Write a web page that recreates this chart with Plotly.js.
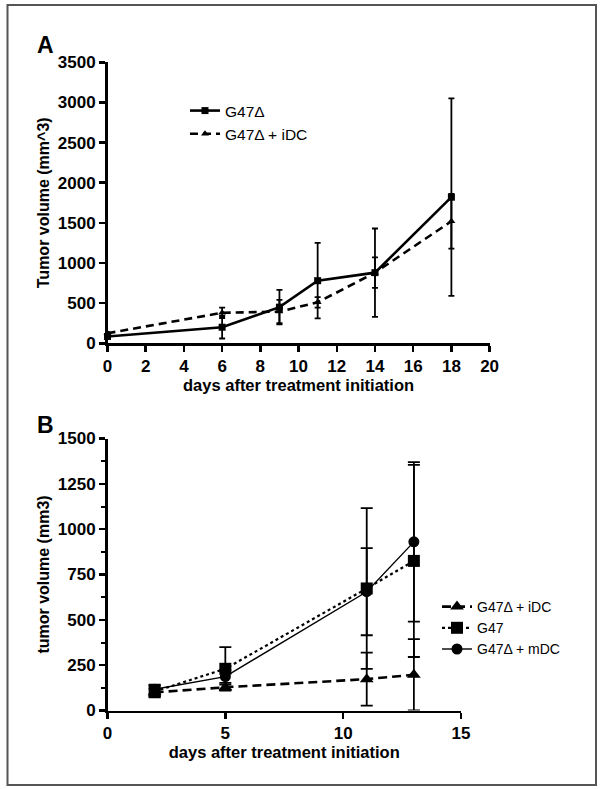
<!DOCTYPE html>
<html>
<head>
<meta charset="utf-8">
<script src="https://cdn.plot.ly/plotly-3.0.1.min.js"></script>
<style>html,body{margin:0;padding:0;background:#fff;}#chart{width:602px;height:789px;}</style>
</head>
<body>
<div id="chart"></div>
<script>
// Panel A data
const daysA = [0, 6, 9, 11, 14, 18];
const g47dA = [85, 200, 450, 780, 880, 1820];
const errG47dA = [15, 140, 215, 470, 550, 1230];
const idcA = [125, 380, 395, 510, 880, 1520];
const errIdcA = [15, 65, 145, 65, 190, 340];

// Panel B data
const daysB = [2, 5, 11, 13];
const idcB = [100, 128, 173, 197];
const errIdcB = [20, 15, 146, 197];
const g47B = [105, 230, 673, 825];
const errG47B = [33, 120, 443, 530];
const mdcB = [117, 187, 655, 930];
const errMdcB = [25, 35, 240, 440];

const namesA = ['G47Δ', 'G47Δ + iDC'];
const namesB = ['G47Δ + iDC', 'G47', 'G47Δ + mDC'];

const FONT = 'Liberation Sans, Arial, Helvetica, sans-serif';

function eb(arr, w, t) {
  return {type: 'data', array: arr, visible: true, color: '#000', thickness: t, width: w};
}

const traces = [
  {x: daysA, y: g47dA, name: namesA[0], type: 'scatter', mode: 'lines+markers', xaxis: 'x', yaxis: 'y',
   line: {color: '#000', width: 2.6, dash: 'solid'}, marker: {symbol: 'square', size: 7, color: '#000'},
   error_y: eb(errG47dA, 3, 1.8), cliponaxis: false, legend: 'legend'},
  {x: daysA, y: idcA, name: namesA[1], type: 'scatter', mode: 'lines+markers', xaxis: 'x', yaxis: 'y',
   line: {color: '#000', width: 2.6, dash: '8px,5px'}, marker: {symbol: 'triangle-up', size: 7, color: '#000'},
   error_y: eb(errIdcA, 3, 1.8), cliponaxis: false, legend: 'legend'},
  {x: daysB, y: idcB, name: namesB[0], type: 'scatter', mode: 'lines+markers', xaxis: 'x2', yaxis: 'y2',
   line: {color: '#000', width: 2.6, dash: '9px,5px'}, marker: {symbol: 'triangle-up', size: 12, color: '#000'},
   error_y: eb(errIdcB, 6, 1.8), cliponaxis: false, legend: 'legend2'},
  {x: daysB, y: g47B, name: namesB[1], type: 'scatter', mode: 'lines+markers', xaxis: 'x2', yaxis: 'y2',
   line: {color: '#000', width: 2.2, dash: 'dot'}, marker: {symbol: 'square', size: 12, color: '#000'},
   error_y: eb(errG47B, 6, 1.8), cliponaxis: false, legend: 'legend2'},
  {x: daysB, y: mdcB, name: namesB[2], type: 'scatter', mode: 'lines+markers', xaxis: 'x2', yaxis: 'y2',
   line: {color: '#000', width: 1.4, dash: 'solid'}, marker: {symbol: 'circle', size: 11, color: '#000'},
   error_y: eb(errMdcB, 6, 1.8), cliponaxis: false, legend: 'legend2'}
];

function axis(extra) {
  return Object.assign({
    showline: true, linewidth: 2.5, linecolor: '#000', mirror: false,
    ticks: 'outside', ticklen: 6, tickwidth: 2.5, tickcolor: '#000',
    showgrid: false, zeroline: false, fixedrange: true,
    tickfont: {family: FONT, size: 17, weight: 'bold', color: '#000'}
  }, extra);
}
function ttl(text, standoff, size) {
  return {text: text, standoff: standoff, font: {family: FONT, size: size, weight: 'bold', color: '#000'}};
}

const H = 789, W = 602;
const layout = {
  width: W, height: H,
  margin: {l: 0, r: 0, t: 0, b: 0},
  paper_bgcolor: '#fff', plot_bgcolor: '#fff',
  font: {family: FONT, color: '#000'},
  showlegend: true,
  xaxis: axis({domain: [107.5 / W, 489.6 / W], range: [0, 20], dtick: 2, tick0: 0, anchor: 'y',
    title: ttl('days after treatment initiation', 2, 16.5)}),
  yaxis: axis({domain: [1 - 343.3 / H, 1 - 62.3 / H], range: [0, 3500], dtick: 500, tick0: 0, anchor: 'x',
    title: ttl('Tumor volume (mm^3)', 4, 16)}),
  xaxis2: axis({domain: [107.5 / W, 461 / W], range: [0, 15], dtick: 5, tick0: 0, anchor: 'y2',
    title: ttl('days after treatment initiation', 2, 16.5)}),
  yaxis2: axis({domain: [1 - 710.5 / H, 1 - 438.5 / H], range: [0, 1500], dtick: 250, tick0: 0, anchor: 'x2',
    minor: {ticks: 'outside', ticklen: 4, tickwidth: 2, tickcolor: '#000', dtick: 125, showgrid: false},
    title: ttl('tumor volume (mm3)', 4, 16)}),
  legend: {x: 185 / W, y: 1 - 94 / H, xanchor: 'left', yanchor: 'top', bgcolor: 'rgba(0,0,0,0)',
    font: {family: FONT, size: 15.5, color: '#000'}, tracegroupgap: 0, itemclick: false},
  legend2: {x: 437 / W, y: 1 - 591 / H, xanchor: 'left', yanchor: 'top', bgcolor: 'rgba(0,0,0,0)',
    font: {family: FONT, size: 14, color: '#000'}, tracegroupgap: 0, itemclick: false},
  shapes: [
    {type: 'rect', xref: 'paper', yref: 'paper', x0: 7.5 / W, x1: 596 / W, y0: 1 - 785 / H, y1: 1 - 5 / H,
     line: {color: '#555', width: 2}, fillcolor: 'rgba(0,0,0,0)'}
  ],
  annotations: [
    {text: 'A', xref: 'paper', yref: 'paper', x: 45 / W, y: 1 - 45 / H, showarrow: false,
     xanchor: 'center', yanchor: 'middle', font: {family: FONT, size: 23, weight: 'bold', color: '#000'}},
    {text: 'B', xref: 'paper', yref: 'paper', x: 45 / W, y: 1 - 425 / H, showarrow: false,
     xanchor: 'center', yanchor: 'middle', font: {family: FONT, size: 23, weight: 'bold', color: '#000'}}
  ]
};

Plotly.newPlot('chart', traces, layout, {displayModeBar: false, staticPlot: true});
</script>
</body>
</html>
